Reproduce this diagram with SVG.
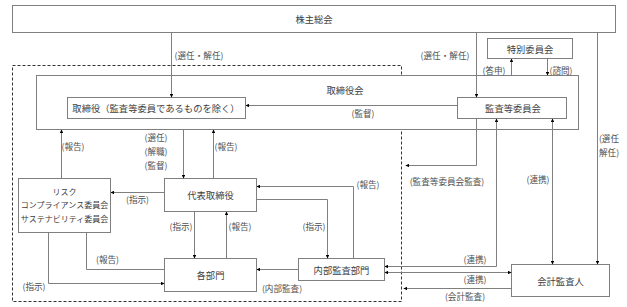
<svg xmlns="http://www.w3.org/2000/svg" width="627" height="307" viewBox="0 0 627 307">
<style>
.box{fill:#fff;stroke:#7f7f7f;stroke-width:1}
.bt{font-family:"Noto Sans CJK JP",sans-serif;font-size:9.3px;fill:#404040;text-anchor:middle;dominant-baseline:central}
.sm{font-size:8px}
.lb{font-family:"Noto Sans CJK JP",sans-serif;font-size:8.6px;fill:#505050;text-anchor:middle;dominant-baseline:central}
.ln{fill:none;stroke:#7f7f7f;stroke-width:1}
.a1{marker-end:url(#ah)}
.a2{marker-start:url(#ah);marker-end:url(#ah)}
.dash{fill:none;stroke:#333;stroke-width:1;stroke-dasharray:3 2}
</style>
<defs>
<marker id="ah" viewBox="0 0 6 6" refX="6" refY="3" markerWidth="3.5" markerHeight="3.5" orient="auto-start-reverse" markerUnits="strokeWidth">
<path d="M0,0 L6,3 L0,6 z" fill="#000"/>
</marker>
</defs>
<rect width="627" height="307" fill="#fff"/>

<g id="kabunushi"><rect class="box" x="12.5" y="5.5" width="603" height="27"/><text class="bt" x="314" y="19">株主総会</text></g>
<rect class="dash" x="12.5" y="65.5" width="389" height="236"/>
<g id="torishimariyakukai"><rect class="box" x="36.5" y="75.5" width="542" height="54"/><text class="bt" x="345" y="90">取締役会</text></g>
<g id="torishimariyaku"><rect class="box" x="67.5" y="97.5" width="178" height="21"/><text class="bt" x="156" y="108">取締役（監査等委員であるものを除く）</text></g>
<g id="kansatou"><rect class="box" x="457.5" y="97.5" width="109" height="21"/><text class="bt" x="513" y="108">監査等委員会</text></g>
<g id="tokubetsu"><rect class="box" x="487.5" y="38.5" width="85" height="20"/><text class="bt" x="530" y="48.5">特別委員会</text></g>
<g id="risk"><rect class="box" x="18.5" y="178.5" width="92" height="54"/>
<text class="bt sm" x="64.5" y="191">リスク</text>
<text class="bt sm" x="64.5" y="204.5">コンプライアンス委員会</text>
<text class="bt sm" x="64.5" y="218.5">サステナビリティ委員会</text></g>
<g id="daihyou"><rect class="box" x="164.5" y="178.5" width="92" height="33"/><text class="bt" x="210.5" y="194.5">代表取締役</text></g>
<g id="kakubumon"><rect class="box" x="164.5" y="258.5" width="92" height="33"/><text class="bt" x="210.5" y="275">各部門</text></g>
<g id="naibu"><rect class="box" x="298.5" y="258.5" width="86" height="22"/><text class="bt" x="341.5" y="269.5">内部監査部門</text></g>
<g id="kaikei"><rect class="box" x="511.5" y="264.5" width="98" height="32"/><text class="bt" x="560.5" y="280.5">会計監査人</text></g>

<g id="connectors">
<path class="ln a1" d="M171.5,32.5 V97.5"/>
<path class="ln a1" d="M476.5,32.5 V97.5"/>
<path class="ln a1" d="M597.5,32.5 V264.5"/>
<path class="ln a1" d="M511.5,75.5 V58.5"/>
<path class="ln a1" d="M547.5,58.5 V75.5"/>
<path class="ln a1" d="M457.5,105.5 H245.5"/>
<path class="ln a1" d="M61.5,178.5 V129.5"/>
<path class="ln a1" d="M183.5,129.5 V178.5"/>
<path class="ln a1" d="M213.5,178.5 V129.5"/>
<path class="ln a1" d="M164.5,192.5 H110.5"/>
<path class="ln a1" d="M194.5,211.5 V258.5"/>
<path class="ln a1" d="M226.5,258.5 V211.5"/>
<path class="ln" d="M86.5,232.5 V269.5 H164.5"/>
<path class="ln a1" d="M48.5,232.5 V283.5 H164.5"/>
<path class="ln a1" d="M256.5,199.5 H327.5 V258.5"/>
<path class="ln a1" d="M353.5,258.5 V186.5 H256.5"/>
<path class="ln a1" d="M298.5,269.5 H256.5"/>
<path class="ln a1" d="M476.5,118.5 V165.5 H405.5"/>
<path class="ln a2" d="M496.5,118.5 V266.5 H384.5"/>
<path class="ln a2" d="M384.5,272.5 H511.5"/>
<path class="ln a1" d="M511.5,288.5 H403.5"/>
<path class="ln a2" d="M552.5,118.5 V264.5"/>
</g>

<g id="labels">
<text class="lb" x="199" y="55">(選任・解任)</text>
<text class="lb" x="445" y="55">(選任・解任)</text>
<text class="lb" x="609" y="137.5">(選任</text>
<text class="lb" x="609" y="152">解任)</text>
<text class="lb" x="494" y="70">(答申)</text>
<text class="lb" x="561" y="70">(諮問)</text>
<text class="lb" x="363" y="113">(監督)</text>
<text class="lb" x="73" y="146">(報告)</text>
<text class="lb" x="156" y="137">(選任)</text>
<text class="lb" x="156" y="151">(解職)</text>
<text class="lb" x="156" y="165">(監督)</text>
<text class="lb" x="226" y="146">(報告)</text>
<text class="lb" x="137.5" y="198.5">(指示)</text>
<text class="lb" x="181" y="226">(指示)</text>
<text class="lb" x="240" y="226">(報告)</text>
<text class="lb" x="314" y="226">(指示)</text>
<text class="lb" x="368" y="183.5">(報告)</text>
<text class="lb" x="107.5" y="258.5">(報告)</text>
<text class="lb" x="34" y="286">(指示)</text>
<text class="lb" x="282" y="287.5">(内部監査)</text>
<text class="lb" x="447" y="181">(監査等委員会監査)</text>
<text class="lb" x="475" y="258.5">(連携)</text>
<text class="lb" x="475" y="278.5">(連携)</text>
<text class="lb" x="465" y="296">(会計監査)</text>
<text class="lb" x="538" y="178.5">(連携)</text>
</g>
</svg>
